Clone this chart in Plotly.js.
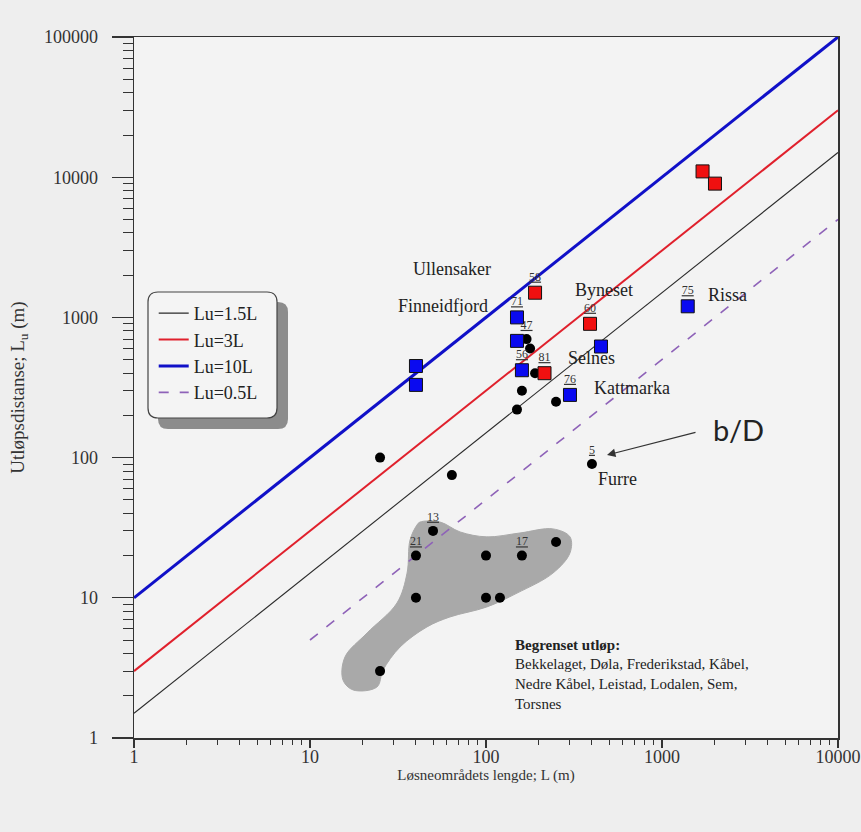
<!DOCTYPE html>
<html>
<head>
<meta charset="utf-8">
<script src="https://cdn.plot.ly/plotly-3.0.1.min.js"></script>
<style>html,body{margin:0;padding:0;background:#eeeeee;}#chart{width:861px;height:832px;}</style>
</head>
<body>
<div id="chart"></div>
<script>
// ---- data ----
const lineX = [1, 10000];
const line15Y = [1.5, 15000];
const line3Y = [3, 30000];
const line10Y = [10, 100000];
const line05X = [10, 10000];
const line05Y = [5, 5000];

const blueX = [40, 40, 150, 150, 160, 450, 300, 1400];
const blueY = [450, 330, 1000, 680, 420, 620, 280, 1200];
const blueLbl = ['', '', '71', '', '56', '', '76', '75'];

const redX = [190, 390, 215, 1700, 2000];
const redY = [1500, 900, 400, 11000, 9000];
const redLbl = ['58', '60', '81', '', ''];

const blackX = [25, 64, 170, 178, 190, 160, 150, 250, 400, 50, 40, 100, 160, 250, 40, 100, 120, 25];
const blackY = [100, 75, 700, 600, 400, 300, 220, 250, 90, 30, 20, 20, 20, 25, 10, 10, 10, 3];
const blackLbl = ['', '', '47', '', '', '', '', '', '5', '13', '21', '', '17', '', '', '', '', ''];

const blobX = [42.2, 54.8, 71.2, 101, 156, 240, 300, 300, 240, 150, 101, 62.4, 46.2, 32.5, 26, 24, 17.6, 15.4, 15.8, 21.1, 31.2, 35.6, 37, 40.5, 42.2];
const blobY = [34.7, 34.7, 29.5, 27.2, 29, 31, 27.2, 20.9, 15, 10.8, 8.6, 7.3, 6.2, 4.46, 3.05, 2.31, 2.2, 2.59, 3.78, 5.61, 9.18, 15, 25.8, 33, 34.7];

const xTickVals = [1, 10, 100, 1000, 10000];
const xTickText = ['1', '10', '100', '1000', '10000'];
const yTickVals = [1, 10, 100, 1000, 10000, 100000];
const yTickText = ['1', '10', '100', '1000', '10000', '100000'];

const legendNames = ['Lu=1.5L', 'Lu=3L', 'Lu=10L', 'Lu=0.5L'];

const siteLabels = ['Ullensaker', 'Finneidfjord', 'Byneset', 'Rissa', 'Selnes', 'Kattmarka', 'Furre'];
const noteLines = ['<b>Begrenset utløp:</b>', 'Bekkelaget, Døla, Frederikstad, Kåbel,', 'Nedre Kåbel, Leistad, Lodalen, Sem,', 'Torsnes'];

// ---- minor ticks (2..9 in each decade) ----
function minorVals(lo, hi) {
  const v = [];
  for (let d = lo; d < hi; d++) for (let k = 2; k <= 9; k++) v.push(k * Math.pow(10, d));
  return v;
}

const serif = 'Liberation Serif, Times New Roman, serif';

const traces = [
  {x: blobX, y: blobY, mode: 'lines', fill: 'toself', fillcolor: '#a9a9a9',
   line: {color: '#a9a9a9', width: 1, shape: 'spline', smoothing: 1}, showlegend: false, hoverinfo: 'skip'},
  {x: lineX, y: line15Y, mode: 'lines', name: legendNames[0], line: {color: '#2a2a2a', width: 1.1}},
  {x: lineX, y: line3Y, mode: 'lines', name: legendNames[1], line: {color: '#e0202c', width: 2}},
  {x: lineX, y: line10Y, mode: 'lines', name: legendNames[2], line: {color: '#1010c8', width: 3}},
  {x: line05X, y: line05Y, mode: 'lines', name: legendNames[3], line: {color: '#8e62b8', width: 1.6, dash: '10px,11px'}},
  {x: blackX, y: blackY, text: blackLbl, mode: 'markers+text', textposition: 'top center',
   textfont: {family: serif, size: 12, color: '#333'}, showlegend: false,
   marker: {symbol: 'circle', size: 10, color: '#000000'}},
  {x: blueX, y: blueY, text: blueLbl, mode: 'markers+text', textposition: 'top center',
   textfont: {family: serif, size: 12, color: '#333'}, showlegend: false,
   marker: {symbol: 'square', size: 13, color: '#0a0af0', line: {color: '#111', width: 1}}},
  {x: redX, y: redY, text: redLbl, mode: 'markers+text', textposition: 'top center',
   textfont: {family: serif, size: 12, color: '#333'}, showlegend: false,
   marker: {symbol: 'square', size: 13, color: '#f01010', line: {color: '#111', width: 1}}}
];
// underline point numbers
traces.slice(5).forEach(t => { t.text = t.text.map(s => s ? '<u>' + s + '</u>' : ''); });

function P(px, py) { return {x: (px - 134) / 704, y: (738 - py) / 701}; }

const siteFont = {family: serif, size: 18, color: '#222'};
const sitePos = [[452, 269], [443, 306], [604, 290], [727, 295], [591, 358], [632, 388], [617, 479]];
const annotations = siteLabels.map((s, i) => {
  const p = P(sitePos[i][0], sitePos[i][1]);
  return {xref: 'paper', yref: 'paper', x: p.x, y: p.y, xanchor: 'center', yanchor: 'middle',
    text: s, showarrow: false, font: siteFont};
});
const bd = P(738, 429);
annotations.push({xref: 'paper', yref: 'paper', x: bd.x, y: bd.y, xanchor: 'center', yanchor: 'middle',
  text: 'b/D', showarrow: false, font: {family: 'Lato, Open Sans, sans-serif', size: 29, color: '#222'}});
const ah = P(607, 455);
annotations.push({xref: 'paper', yref: 'paper', x: ah.x, y: ah.y, text: '', showarrow: true,
  ax: 90, ay: -23, arrowhead: 2, arrowsize: 1.4, arrowwidth: 1.2, arrowcolor: '#333'});
const noteY = [645, 664, 684, 704];
noteLines.forEach((s, i) => {
  const p = P(513, noteY[i]);
  annotations.push({xref: 'paper', yref: 'paper', x: p.x, y: p.y, xanchor: 'left', yanchor: 'middle', align: 'left',
    showarrow: false, font: {family: serif, size: 15, color: '#222'}, text: s});
});

// legend box with rounded corners and shadow
function roundRect(px0, py0, px1, py1, r) {
  const a = P(px0, py0), b = P(px1, py1);
  const rx = r / 704, ry = r / 701;
  const x0 = a.x, x1 = b.x, yT = a.y, yB = b.y;
  return `M ${x0 + rx} ${yT} L ${x1 - rx} ${yT} Q ${x1} ${yT} ${x1} ${yT - ry} L ${x1} ${yB + ry} Q ${x1} ${yB} ${x1 - rx} ${yB} L ${x0 + rx} ${yB} Q ${x0} ${yB} ${x0} ${yB + ry} L ${x0} ${yT - ry} Q ${x0} ${yT} ${x0 + rx} ${yT} Z`;
}
const shapes = [
  {type: 'path', xref: 'paper', yref: 'paper', path: roundRect(158, 302, 288, 429, 10),
   fillcolor: '#8c8c8c', line: {width: 0}, layer: 'below'},
  {type: 'path', xref: 'paper', yref: 'paper', path: roundRect(148, 292, 277, 418, 10),
   fillcolor: '#f4f4f4', line: {color: '#444', width: 1.2}, layer: 'below'}
];

const axisCommon = {
  type: 'log', showgrid: false, zeroline: false, showline: true, linecolor: '#333', linewidth: 1.5,
  mirror: true, tickmode: 'array', ticks: 'outside', tickcolor: '#333', tickwidth: 1.2,
  tickfont: {family: serif, size: 18, color: '#333'}
};

const layout = {
  width: 861, height: 832,
  margin: {l: 134, r: 23, t: 37, b: 94},
  paper_bgcolor: '#eeeeee', plot_bgcolor: '#f3f3f3',
  font: {family: serif, color: '#333'},
  xaxis: Object.assign({}, axisCommon, {
    range: [0, 4], tickvals: xTickVals, ticktext: xTickText, ticklen: 8, ticklabelstandoff: -6,
    minor: {ticks: 'outside', ticklen: 5, tickcolor: '#333', tickwidth: 1, tickmode: 'array', tickvals: minorVals(0, 4), showgrid: false},
    title: {text: 'Løsneområdets lengde; L (m)', font: {family: serif, size: 15, color: '#333'}, standoff: 0}
  }),
  yaxis: Object.assign({}, axisCommon, {
    range: [0, 5], tickvals: yTickVals, ticktext: yTickText, ticklen: 21, ticklabelstandoff: 10,
    minor: {ticks: 'outside', ticklen: 10, tickcolor: '#333', tickwidth: 1, tickmode: 'array', tickvals: minorVals(0, 5), showgrid: false},
    title: {text: 'Utløpsdistanse; L<sub>u</sub> (m)', font: {family: serif, size: 19, color: '#333'}, standoff: 14}
  }),
  showlegend: true,
  legend: {x: 0.028, y: 0.632, xanchor: 'left', yanchor: 'top', bgcolor: 'rgba(0,0,0,0)', borderwidth: 0,
    font: {family: serif, size: 18, color: '#222'}, itemwidth: 30},
  annotations: annotations,
  shapes: shapes
};

Plotly.newPlot('chart', traces, layout, {displayModeBar: false, staticPlot: true});
</script>
</body>
</html>
